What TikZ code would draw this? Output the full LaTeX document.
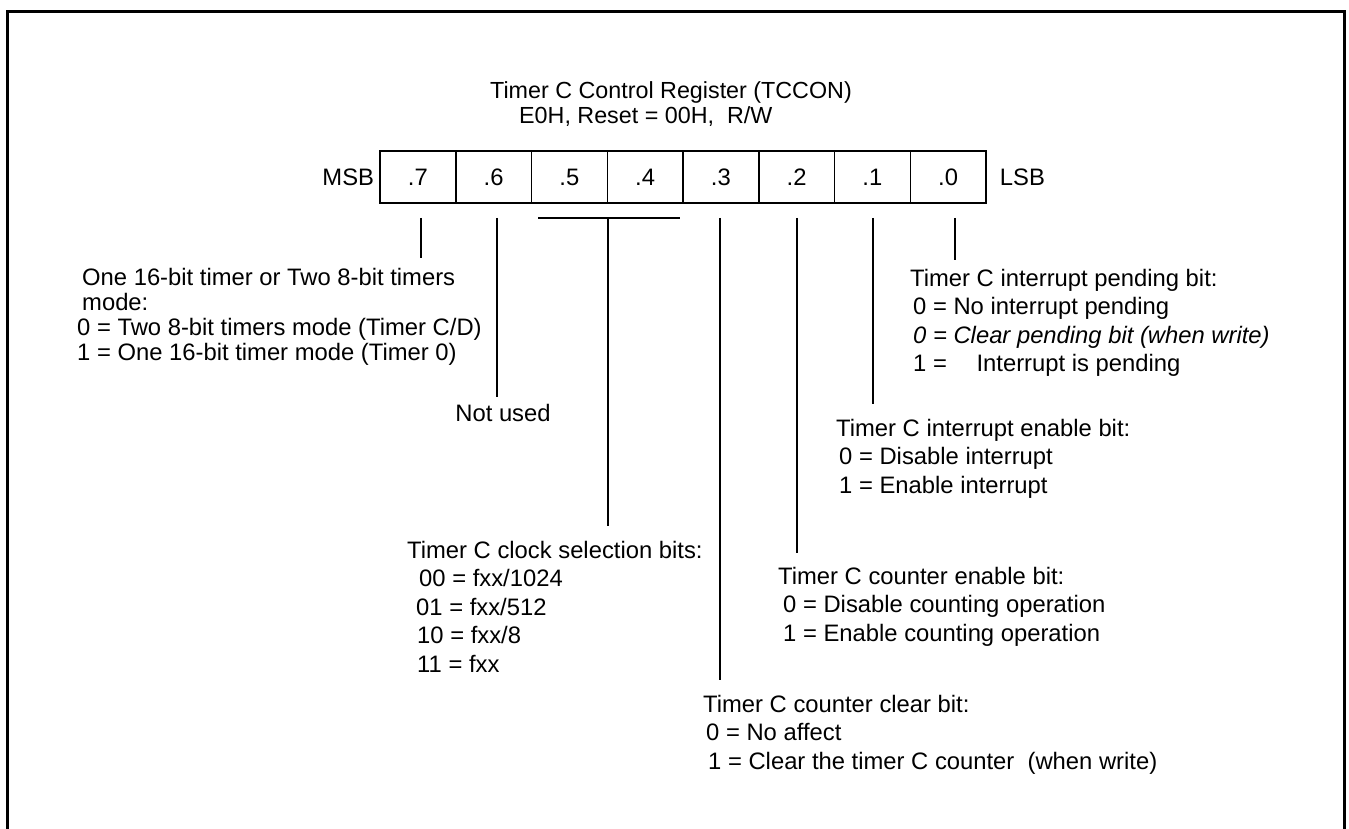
\documentclass[tikz,border=0pt]{standalone}
\usepackage{fontspec}
\setmainfont{Liberation Sans}
\usetikzlibrary{positioning, calc}

\begin{document}
\begin{tikzpicture}[x=1pt, y=-1pt,
    txt/.style={font=\fontsize{23.8}{28.5}\selectfont, inner sep=0pt},
    regbit/.style={txt, draw, line width=1.5pt, minimum width=75.75pt, minimum height=52pt},
    note/.style={txt, anchor=north west, align=left},
    leader/.style={line width=2pt},
]
\useasboundingbox (0,0) rectangle (1349,828);
\draw[line width=3pt] (7,832) -- (7,11) -- (1344,11) -- (1344,832);

\node[txt, font=\fontsize{23.3}{25}\selectfont] (title) at (671,92) {Timer C Control Register (TCCON)};
\node[txt, font=\fontsize{23.3}{25}\selectfont, anchor=west] (addr) at (519,117) {E0H, Reset = 00H,\ \ R/W};

\foreach \b [count=\k from 0] in {7,6,5,4,3,2,1,0}
    \node[regbit] (b\b) at ({417.875+75.75*\k},177) {.\b};
\node[txt, left=5pt of b7] (msb) {MSB};
\node[txt, right=13pt of b0] (lsb) {LSB};

\node[note, font=\fontsize{23.8}{25}\selectfont] (t7) at (77,268) {\hspace*{5pt}One 16-bit timer or Two 8-bit timers\\
    \hspace*{5pt}mode:\\
    0 = Two 8-bit timers mode (Timer C/D)\\
    1 = One 16-bit timer mode (Timer 0)};
\node[txt] (t6) at (503,413) {Not used};
\node[note] (t54) at (407,541) {Timer C clock selection bits:\\
    \hspace*{12pt}00 = fxx/1024\\
    \hspace*{9pt}01 = fxx/512\\
    \hspace*{10pt}10 = fxx/8\\
    \hspace*{10pt}11 = fxx};
\node[note] (t3) at (703,695) {Timer C counter clear bit:\\
    \hspace*{3pt}0 = No affect\\
    \hspace*{5pt}1 = Clear the timer C counter\ \ (when write)};
\node[note] (t2) at (778,567) {Timer C counter enable bit:\\
    \hspace*{5pt}0 = Disable counting operation\\
    \hspace*{5pt}1 = Enable counting operation};
\node[note] (t1) at (836,419) {Timer C interrupt enable bit:\\
    \hspace*{3pt}0 = Disable interrupt\\
    \hspace*{3pt}1 = Enable interrupt};
\node[note] (t0) at (910,269) {Timer C interrupt pending bit:\\
    \hspace*{3pt}0 = No interrupt pending\\
    \hspace*{3pt}\textit{0 = Clear pending bit (when write)}\\
    \hspace*{3pt}1 =\hspace{23pt} Interrupt is pending};

\coordinate (e7) at (421,258);
\coordinate (e6) at (497,397);
\coordinate (e54) at (608,526);
\coordinate (e3) at (720,680);
\coordinate (e2) at (797,553);
\coordinate (e1) at (873,404);
\coordinate (e0) at (955,260);
\foreach \b in {7,6,3,2,1,0}
    \draw[leader] (b\b.south -| e\b) ++(0,14) -- (e\b);
\draw[leader] ($(b5.south west)+(7.5,14)$) -- ($(b4.south east)+(-4,14)$);
\draw[leader] ($(b5.south east)+(0,14)$) -- (e54);
\end{tikzpicture}
\end{document}
